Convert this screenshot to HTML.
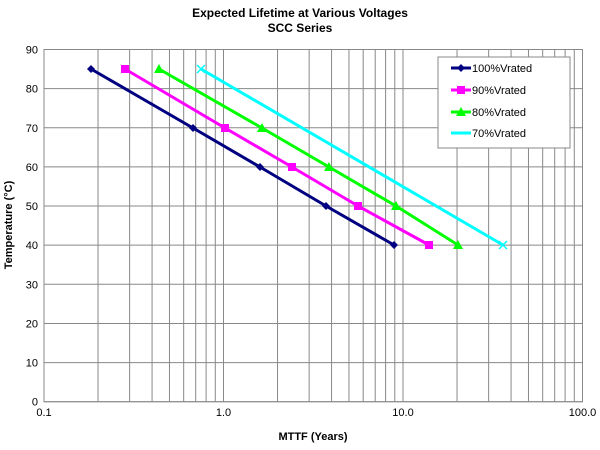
<!DOCTYPE html><html><head><style>body{margin:0;background:#fff}svg{font-family:"Liberation Sans",sans-serif}</style></head><body>
<svg width="600" height="445" xmlns="http://www.w3.org/2000/svg">
<text x="300" y="17" font-size="12" font-weight="bold" text-anchor="middle">Expected Lifetime at Various Voltages</text>
<text x="300" y="32" font-size="12" font-weight="bold" text-anchor="middle">SCC Series</text>
<g id="grid" stroke="#888" stroke-width="1" fill="none"></g>
<rect x="44" y="49.5" width="538.5" height="352.2" fill="none" stroke="#888"/>
<g font-size="11" text-anchor="end" id="yl"></g>
<g font-size="11" text-anchor="middle">
<text x="44" y="416">0.1</text><text x="223.5" y="416">1.0</text><text x="403" y="416">10.0</text><text x="582.5" y="416">100.0</text></g>
<text x="313" y="440" font-size="11" font-weight="bold" text-anchor="middle">MTTF (Years)</text>
<text transform="translate(12,225) rotate(-90)" font-size="11" font-weight="bold" text-anchor="middle">Temperature (°C)</text>
<g fill="none" stroke-width="3">
<polyline stroke="#00ffff" points="201,69 503,245"/>
<polyline stroke="#00ff00" points="159,69 262,128 329,167 396,206 458,245"/>
<polyline stroke="#ff00ff" points="125,69 225,128 292,167 358,206 429,245"/>
<polyline stroke="#000080" points="91,69 193,128 260,167 326,206 394,245"/>
</g>
<g fill="#000080"><path d="M91 65l4 4-4 4-4-4z"/><path d="M193 124l4 4-4 4-4-4z"/><path d="M260 163l4 4-4 4-4-4z"/><path d="M326 202l4 4-4 4-4-4z"/><path d="M394 241l4 4-4 4-4-4z"/></g>
<g fill="#ff00ff"><rect x="121" y="65" width="8" height="8"/><rect x="221" y="124" width="8" height="8"/><rect x="288" y="163" width="8" height="8"/><rect x="354" y="202" width="8" height="8"/><rect x="425" y="241" width="8" height="8"/></g>
<g fill="#00ff00"><path d="M159 64l5 9h-10z"/><path d="M262 123l5 9h-10z"/><path d="M329 162l5 9h-10z"/><path d="M396 201l5 9h-10z"/><path d="M458 240l5 9h-10z"/></g>
<g stroke="#00ffff" stroke-width="1.5"><path d="M197 65l8 8M205 65l-8 8M499 241l8 8M507 241l-8 8"/></g>
<rect x="438" y="57" width="132" height="91" fill="#fff" stroke="#888"/>
<g font-size="11">
<line x1="451" y1="68" x2="471" y2="68" stroke="#000080" stroke-width="3"/><path d="M461 64l4 4-4 4-4-4z" fill="#000080"/><text x="472" y="72">100%Vrated</text>
<line x1="451" y1="90" x2="471" y2="90" stroke="#ff00ff" stroke-width="3"/><rect x="457" y="86" width="8" height="8" fill="#ff00ff"/><text x="472" y="94">90%Vrated</text>
<line x1="451" y1="112" x2="471" y2="112" stroke="#00ff00" stroke-width="3"/><path d="M461 107l5 9h-10z" fill="#00ff00"/><text x="472" y="116">80%Vrated</text>
<line x1="451" y1="133" x2="471" y2="133" stroke="#00ffff" stroke-width="3"/><text x="472" y="137">70%Vrated</text>
</g>
</svg>
<script>
var g=document.getElementById('grid'),yl=document.getElementById('yl'),s='',t='';
for(var d=0;d<3;d++)for(var k=1;k<10;k++){var x=44+179.5*(d+Math.log10(k));s+='<line x1="'+x+'" y1="49.5" x2="'+x+'" y2="401.7"/>';}
for(var v=0;v<=90;v+=10){var y=401.7-v*3.913;s+='<line x1="44" y1="'+y+'" x2="582.5" y2="'+y+'"/>';t+='<text x="38" y="'+(y+4)+'">'+v+'</text>';}
g.innerHTML=s;yl.innerHTML=t;
</script>
</body></html>
